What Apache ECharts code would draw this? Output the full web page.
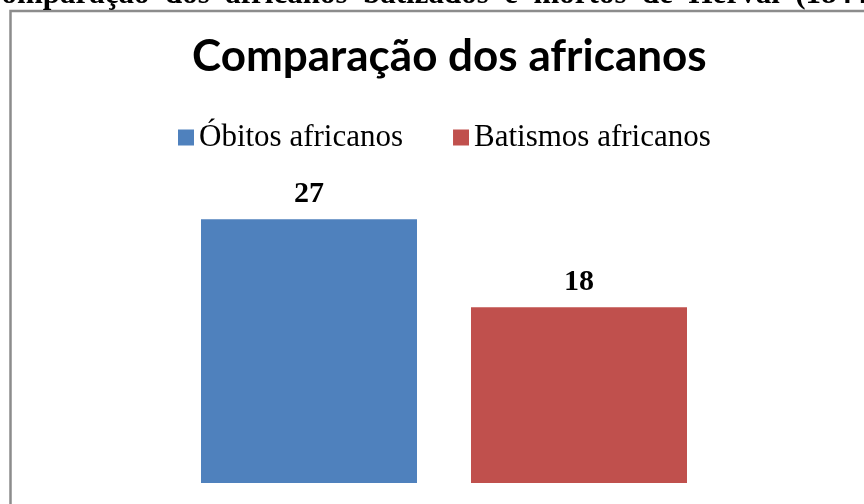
<!DOCTYPE html>
<html>
<head>
<meta charset="utf-8">
<script src="https://cdn.jsdelivr.net/npm/echarts@6/dist/echarts.min.js"></script>
<style>
  html, body { margin: 0; padding: 0; background: #fff; }
  #chart { width: 864px; height: 504px; }
</style>
</head>
<body>
<div id="chart"></div>
<script>
// dados
var categorias = ["Africanos"];
var nomesSeries = ["Óbitos africanos", "Batismos africanos"];
var obitos = [27];
var batismos = [18];
var cores = ["#4F81BD", "#C0504D"];

var chartDom = document.getElementById("chart");
var myChart = echarts.init(chartDom);
var option;

var rotulo = {
  show: true,
  position: "top",
  distance: 10,
  color: "#000",
  fontFamily: "Liberation Serif",
  fontWeight: "bold",
  fontSize: 30
};

// linha de cima (legenda da figura, cortada na imagem)
var cabecalho = "Comparação  dos  africanos  batizados  e  mortos  de  Herval  (1844";

option = {
  animation: false,
  title: {
    text: "Comparação dos africanos",
    left: 187,
    top: 30,
    textStyle: {
      fontFamily: "Lato",
      fontWeight: "bold",
      fontSize: 44,
      color: "#000"
    }
  },
  legend: {
    data: nomesSeries,
    left: 173,
    top: 117,
    icon: "rect",
    itemWidth: 16,
    itemHeight: 16,
    itemGap: 50,
    textStyle: {
      fontFamily: "Liberation Serif",
      fontSize: 31,
      color: "#000"
    }
  },
  graphic: [
    {
      type: "rect",
      shape: { x: 10.5, y: 11, width: 900, height: 600 },
      style: { fill: "none", stroke: "#8c8c8c", lineWidth: 2.5 },
      z: 100
    },
    {
      type: "text",
      left: -21,
      top: -21,
      style: {
        text: cabecalho,
        fontFamily: "Liberation Serif",
        fontWeight: "bold",
        fontSize: 31,
        fill: "#000"
      },
      z: 100
    }
  ],
  grid: {
    left: 39,
    right: 15,
    top: 190,
    bottom: 21
  },
  xAxis: {
    type: "category",
    data: categorias,
    show: false
  },
  yAxis: {
    type: "value",
    min: 0,
    max: 30,
    show: false
  },
  series: [
    {
      name: nomesSeries[0],
      type: "bar",
      data: obitos,
      barWidth: 216,
      barGap: "25%",
      itemStyle: { color: cores[0] },
      label: rotulo
    },
    {
      name: nomesSeries[1],
      type: "bar",
      data: batismos,
      barWidth: 216,
      barGap: "25%",
      itemStyle: { color: cores[1] },
      label: rotulo
    }
  ]
};

option && myChart.setOption(option);
</script>
</body>
</html>
